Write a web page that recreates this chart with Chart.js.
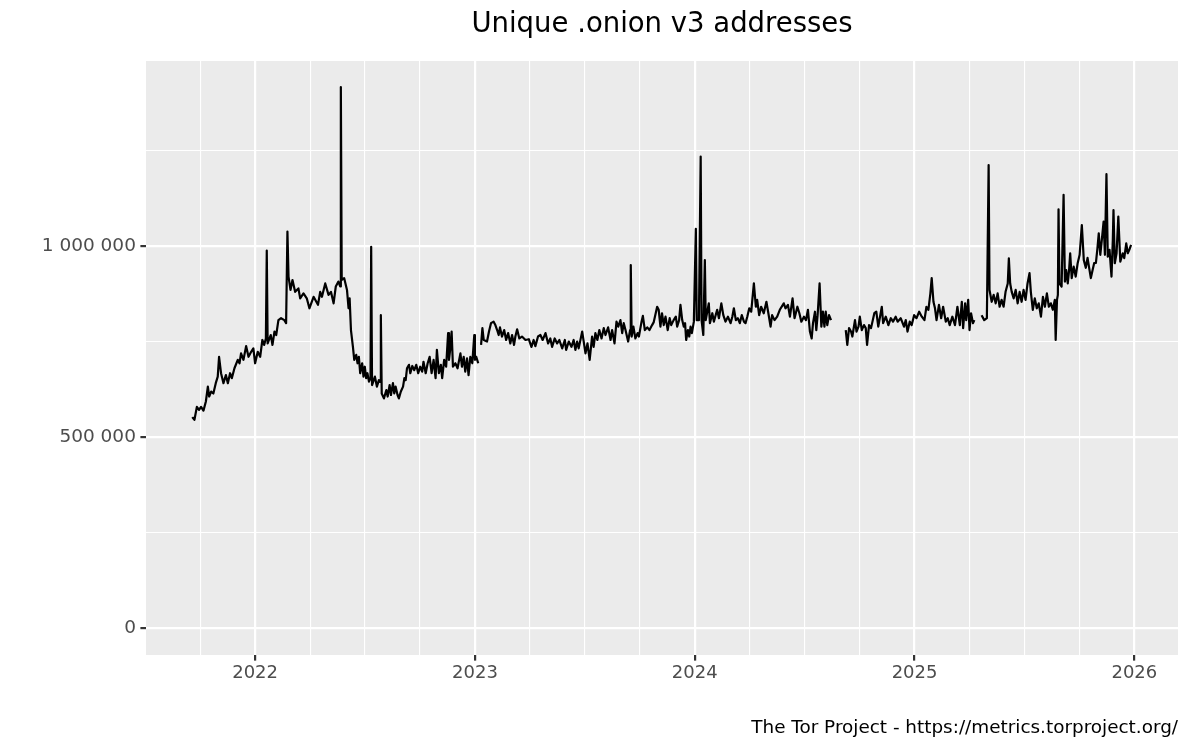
<!DOCTYPE html>
<html>
<head>
<meta charset="utf-8">
<title>Unique .onion v3 addresses</title>
<script src="https://cdn.jsdelivr.net/npm/chart.js@4/dist/chart.umd.min.js"></script>
<style>
  html, body { margin: 0; padding: 0; background: #ffffff; }
  #wrap { width: 1200px; height: 750px; }
</style>
</head>
<body>
<div id="wrap"><canvas id="onion_chart" width="1200" height="750"></canvas></div>
<script>
// dates as fractional years, null = no data that day
const dates = [
  2021.714, 2021.724, 2021.735, 2021.745, 2021.754, 2021.765, 2021.776, 2021.785, 2021.791, 2021.800,
  2021.810, 2021.821, 2021.830, 2021.836, 2021.845, 2021.856, 2021.867, 2021.876, 2021.886, 2021.894,
  2021.906, 2021.921, 2021.929, 2021.936, 2021.947, 2021.959, 2021.970, 2021.982, 2021.992, 2022.000,
  2022.012, 2022.023, 2022.033, 2022.041, 2022.049, 2022.053, 2022.057, 2022.071, 2022.079, 2022.088,
  2022.096, 2022.106, 2022.118, 2022.133, 2022.141, 2022.147, 2022.152, 2022.161, 2022.170, 2022.182,
  2022.197, 2022.205, 2022.220, 2022.235, 2022.247, 2022.266, 2022.286, 2022.296, 2022.304, 2022.319,
  2022.334, 2022.345, 2022.357, 2022.367, 2022.379, 2022.387, 2022.390, 2022.394, 2022.405, 2022.418,
  2022.425, 2022.430, 2022.436, 2022.445, 2022.451, 2022.460, 2022.466, 2022.472, 2022.478, 2022.487,
  2022.493, 2022.499, 2022.505, 2022.511, 2022.518, 2022.525, 2022.528, 2022.532, 2022.545, 2022.554,
  2022.563, 2022.569, 2022.572, 2022.576, 2022.586, 2022.597, 2022.603, 2022.612, 2022.618, 2022.627,
  2022.633, 2022.639, 2022.648, 2022.654, 2022.663, 2022.673, 2022.679, 2022.685, 2022.691, 2022.700,
  2022.706, 2022.715, 2022.724, 2022.733, 2022.742, 2022.751, 2022.760, 2022.766, 2022.776, 2022.785,
  2022.794, 2022.803, 2022.812, 2022.821, 2022.827, 2022.836, 2022.845, 2022.851, 2022.860, 2022.869,
  2022.878, 2022.882, 2022.888, 2022.894, 2022.900, 2022.911, 2022.921, 2022.934, 2022.941, 2022.949,
  2022.956, 2022.964, 2022.971, 2022.979, 2022.988, 2022.997, 2023.000, 2023.006, 2023.015, 2023.020,
  2023.028, 2023.034, 2023.040, 2023.055, 2023.064, 2023.073, 2023.085, 2023.093, 2023.101, 2023.108,
  2023.114, 2023.123, 2023.133, 2023.142, 2023.151, 2023.161, 2023.169, 2023.178, 2023.184, 2023.192,
  2023.202, 2023.214, 2023.230, 2023.245, 2023.257, 2023.267, 2023.275, 2023.287, 2023.298, 2023.308,
  2023.321, 2023.333, 2023.343, 2023.351, 2023.363, 2023.374, 2023.384, 2023.397, 2023.409, 2023.415,
  2023.427, 2023.439, 2023.449, 2023.457, 2023.465, 2023.472, 2023.488, 2023.503, 2023.512, 2023.522,
  2023.533, 2023.540, 2023.548, 2023.557, 2023.566, 2023.576, 2023.586, 2023.594, 2023.606, 2023.617,
  2023.624, 2023.635, 2023.644, 2023.652, 2023.662, 2023.670, 2023.677, 2023.685, 2023.697, 2023.706,
  2023.709, 2023.713, 2023.721, 2023.730, 2023.740, 2023.746, 2023.758, 2023.764, 2023.773, 2023.784,
  2023.794, 2023.806, 2023.813, 2023.829, 2023.836, 2023.844, 2023.851, 2023.859, 2023.867, 2023.877,
  2023.886, 2023.893, 2023.904, 2023.914, 2023.920, 2023.929, 2023.935, 2023.943, 2023.950, 2023.956,
  2023.961, 2023.969, 2023.975, 2023.981, 2023.987, 2023.996, 2024.005, 2024.009, 2024.019, 2024.027,
  2024.031, 2024.039, 2024.046, 2024.050, 2024.064, 2024.069, 2024.080, 2024.087, 2024.102, 2024.110,
  2024.121, 2024.130, 2024.140, 2024.151, 2024.163, 2024.171, 2024.178, 2024.187, 2024.196, 2024.205,
  2024.214, 2024.224, 2024.231, 2024.239, 2024.248, 2024.257, 2024.269, 2024.278, 2024.284, 2024.293,
  2024.302, 2024.314, 2024.326, 2024.335, 2024.345, 2024.352, 2024.363, 2024.375, 2024.387, 2024.405,
  2024.413, 2024.424, 2024.433, 2024.445, 2024.454, 2024.467, 2024.476, 2024.485, 2024.497, 2024.506,
  2024.515, 2024.524, 2024.532, 2024.538, 2024.547, 2024.553, 2024.559, 2024.568, 2024.576, 2024.583,
  2024.590, 2024.596, 2024.603, 2024.611, 2024.620, 2024.640,
  2024.687, 2024.694, 2024.702, 2024.711, 2024.717, 2024.729, 2024.736, 2024.745, 2024.751, 2024.760,
  2024.770, 2024.778, 2024.784, 2024.793, 2024.802, 2024.817, 2024.826, 2024.835, 2024.851, 2024.857,
  2024.869, 2024.881, 2024.892, 2024.902, 2024.914, 2024.923, 2024.937, 2024.952, 2024.960, 2024.968,
  2024.978, 2024.987, 2024.998, 2025.009, 2025.021, 2025.033, 2025.045, 2025.054, 2025.063, 2025.072,
  2025.078, 2025.086, 2025.093, 2025.100, 2025.111, 2025.121, 2025.130, 2025.142, 2025.151, 2025.160,
  2025.172, 2025.184, 2025.195, 2025.206, 2025.215, 2025.221, 2025.230, 2025.235, 2025.244, 2025.250,
  2025.257, 2025.266, 2025.272, 2025.285,
  2025.305, 2025.317, 2025.329, 2025.337, 2025.341, 2025.351, 2025.360, 2025.369, 2025.378, 2025.387,
  2025.396, 2025.405, 2025.414, 2025.424, 2025.429, 2025.435, 2025.442, 2025.451, 2025.460, 2025.469,
  2025.478, 2025.487, 2025.496, 2025.505, 2025.514, 2025.523, 2025.529, 2025.538, 2025.547, 2025.556,
  2025.565, 2025.575, 2025.584, 2025.593, 2025.602, 2025.611, 2025.620, 2025.629, 2025.638, 2025.642,
  2025.648, 2025.652, 2025.655, 2025.659, 2025.669, 2025.678, 2025.684, 2025.690, 2025.697, 2025.703,
  2025.708, 2025.715, 2025.724, 2025.733, 2025.742, 2025.751, 2025.761, 2025.770, 2025.779, 2025.787,
  2025.796, 2025.802, 2025.810, 2025.817, 2025.825, 2025.832, 2025.838, 2025.845, 2025.852, 2025.860,
  2025.866, 2025.873, 2025.879, 2025.887, 2025.896, 2025.902, 2025.905, 2025.911, 2025.919, 2025.927,
  2025.936, 2025.947, 2025.954, 2025.963, 2025.970, 2025.977, 2025.985
];

const onions = [
  552000, 545000, 579000, 571000, 579000, 569000, 593000, 632000, 606000, 619000,
  614000, 641000, 658000, 710000, 667000, 641000, 662000, 641000, 667000, 654000,
  680000, 702000, 693000, 719000, 702000, 738000, 710000, 723000, 732000, 693000,
  723000, 710000, 754000, 741000, 758000, 988000, 745000, 767000, 741000, 776000,
  767000, 806000, 811000, 806000, 798000, 1038000, 920000, 885000, 911000, 880000,
  889000, 863000, 876000, 863000, 837000, 867000, 846000, 880000, 867000, 902000,
  872000, 880000, 850000, 894000, 907000, 894000, 1416000, 911000, 916000, 885000,
  837000, 863000, 780000, 736000, 702000, 715000, 693000, 710000, 667000, 693000,
  658000, 684000, 654000, 667000, 645000, 654000, 998000, 636000, 658000, 632000,
  649000, 644000, 819000, 614000, 601000, 623000, 606000, 636000, 610000, 641000,
  614000, 632000, 610000, 601000, 619000, 632000, 654000, 649000, 680000, 689000,
  667000, 686000, 675000, 689000, 667000, 684000, 671000, 697000, 667000, 693000,
  710000, 667000, 702000, 654000, 728000, 667000, 689000, 654000, 702000, 684000,
  772000, 702000, 732000, 776000, 684000, 693000, 680000, 719000, 684000, 710000,
  671000, 706000, 662000, 710000, 693000, 767000, 702000, 710000, 693000, null,
  741000, 785000, 754000, 750000, 776000, 798000, 802000, 793000, 780000, 767000,
  787000, 763000, 780000, 754000, 772000, 745000, 767000, 741000, 763000, 782000,
  758000, 763000, 754000, 756000, 736000, 754000, 738000, 763000, 767000, 754000,
  772000, 745000, 758000, 736000, 758000, 745000, 754000, 732000, 754000, 728000,
  750000, 736000, 754000, 728000, 750000, 732000, 776000, 719000, 745000, 702000,
  763000, 736000, 772000, 754000, 780000, 758000, 785000, 767000, 787000, 754000,
  780000, 745000, 802000, 789000, 806000, 772000, 798000, 780000, 750000, 780000,
  950000, 763000, 789000, 758000, 772000, 763000, 802000, 817000, 780000, 787000,
  780000, 793000, 800000, 841000, 833000, 789000, 824000, 793000, 815000, 780000,
  811000, 793000, 806000, 815000, 789000, 806000, 846000, 806000, 789000, 798000,
  754000, 780000, 763000, 789000, 772000, 802000, 1045000, 806000, 806000, 1234000,
  806000, 767000, 963000, 806000, 850000, 798000, 824000, 802000, 833000, 811000,
  850000, 819000, 802000, 815000, 798000, 815000, 837000, 806000, 811000, 798000,
  819000, 802000, 798000, 815000, 837000, 828000, 902000, 841000, 859000, 819000,
  841000, 824000, 854000, 824000, 789000, 819000, 806000, 815000, 833000, 850000,
  837000, 846000, 815000, 863000, 811000, 841000, 824000, 802000, 815000, 806000,
  833000, 776000, 758000, 798000, 828000, 780000, 819000, 902000, 789000, 828000,
  789000, 828000, 793000, 819000, 806000, null,
  780000, 741000, 785000, 776000, 763000, 806000, 776000, 789000, 815000, 780000,
  793000, 785000, 741000, 793000, 785000, 824000, 828000, 789000, 841000, 798000,
  815000, 793000, 811000, 802000, 815000, 802000, 811000, 789000, 806000, 776000,
  802000, 793000, 819000, 811000, 828000, 815000, 806000, 841000, 833000, 876000,
  916000, 854000, 837000, 806000, 846000, 811000, 841000, 802000, 811000, 793000,
  815000, 793000, 841000, 793000, 854000, 785000, 850000, 806000, 859000, 780000,
  824000, 798000, 806000, null,
  819000, 806000, 811000, 1212000, 885000, 854000, 872000, 850000, 876000, 841000,
  859000, 841000, 880000, 902000, 968000, 902000, 880000, 863000, 885000, 850000,
  880000, 854000, 885000, 859000, 902000, 929000, 880000, 833000, 863000, 837000,
  850000, 815000, 867000, 841000, 876000, 841000, 850000, 833000, 859000, 754000,
  859000, 872000, 1096000, 902000, 894000, 1134000, 907000, 937000, 902000, 937000,
  981000, 916000, 946000, 920000, 955000, 977000, 1055000, 963000, 943000, 969000,
  937000, 916000, 937000, 955000, 956000, 994000, 1033000, 977000, 1016000, 1064000,
  977000, 1188000, 972000, 990000, 920000, 1016000, 1094000, 955000, 981000, 1077000,
  959000, 981000, 968000, 1007000, 981000, 990000, 1003000
];

const yearTicks = [2022, 2023, 2024, 2025, 2026];
const countTicks = [0, 500000, 1000000];

const xMin = 2021.5036, xMax = 2026.1985;
const yMin = -70700, yMax = 1484300;

function isMajorYear(v) { return yearTicks.indexOf(v) >= 0; }
function isMajorCount(v) { return countTicks.indexOf(v) >= 0; }

function spaced(v) {
  return String(v).replace(/\B(?=(\d{3})+(?!\d))/g, ' ');
}

const panelBg = {
  id: 'panelBg',
  beforeDraw(chart) {
    const a = chart.chartArea;
    const c = chart.ctx;
    c.save();
    c.fillStyle = '#EBEBEB';
    c.fillRect(a.left, a.top, a.right - a.left, a.bottom - a.top);
    c.restore();
  }
};

const points = dates.map(function (d, i) { return { x: d, y: onions[i] }; });

Chart.defaults.font.family = "'DejaVu Sans', sans-serif";

const ctx = document.getElementById('onion_chart');
const onionChart = new Chart(ctx, {
  type: 'line',
  data: {
    datasets: [{
      data: points,
      borderColor: '#000000',
      borderWidth: 2.2,
      borderJoinStyle: 'round',
      pointRadius: 0,
      tension: 0,
      spanGaps: false
    }]
  },
  plugins: [panelBg],
  options: {
    responsive: false,
    devicePixelRatio: 1,
    animation: false,
    events: [],
    layout: { padding: { left: 0, right: 22, top: 0, bottom: 0 } },
    plugins: {
      legend: { display: false },
      tooltip: { enabled: false },
      title: {
        display: true,
        text: 'Unique .onion v3 addresses',
        fullSize: false,
        color: '#000000',
        font: { size: 27.5, weight: 'normal' },
        padding: { top: 8, bottom: 20 }
      },
      subtitle: {
        display: true,
        text: 'The Tor Project - https://metrics.torproject.org/',
        position: 'bottom',
        align: 'end',
        fullSize: false,
        color: '#000000',
        font: { size: 18.4, weight: 'normal' },
        padding: { top: 0, bottom: 10.5 }
      }
    },
    scales: {
      x: {
        type: 'linear',
        min: xMin,
        max: xMax,
        afterBuildTicks: function (scale) {
          const ticks = [];
          for (let q = 2021.5; q <= xMax; q += 0.25) {
            if (q >= xMin) ticks.push({ value: q });
          }
          scale.ticks = ticks;
        },
        afterFit: function (scale) { scale.height = 62.4; },
        border: { display: false },
        grid: {
          color: '#FFFFFF',
          lineWidth: function (c) { return c.tick && isMajorYear(c.tick.value) ? 2.2 : 1.1; },
          drawTicks: true,
          tickLength: 5.6,
          tickWidth: 2.2,
          tickColor: function (c) { return c.tick && isMajorYear(c.tick.value) ? '#333333' : 'rgba(0,0,0,0)'; }
        },
        ticks: {
          autoSkip: false,
          maxRotation: 0,
          padding: 1.5,
          color: '#4D4D4D',
          font: { size: 18 },
          callback: function (v) { return isMajorYear(v) ? String(v) : ''; }
        }
      },
      y: {
        type: 'linear',
        min: yMin,
        max: yMax,
        afterBuildTicks: function (scale) {
          const ticks = [];
          for (let v = 0; v <= yMax; v += 250000) ticks.push({ value: v });
          scale.ticks = ticks;
        },
        afterFit: function (scale) { scale.width = 146; },
        border: { display: false },
        grid: {
          color: '#FFFFFF',
          lineWidth: function (c) { return c.tick && isMajorCount(c.tick.value) ? 2.2 : 1.1; },
          drawTicks: true,
          tickLength: 5.6,
          tickWidth: 2.2,
          tickColor: function (c) { return c.tick && isMajorCount(c.tick.value) ? '#333333' : 'rgba(0,0,0,0)'; }
        },
        ticks: {
          padding: 4.5,
          color: '#4D4D4D',
          font: { size: 18.5 },
          callback: function (v) { return isMajorCount(v) ? spaced(v) : ''; }
        }
      }
    }
  }
});
</script>
</body>
</html>
